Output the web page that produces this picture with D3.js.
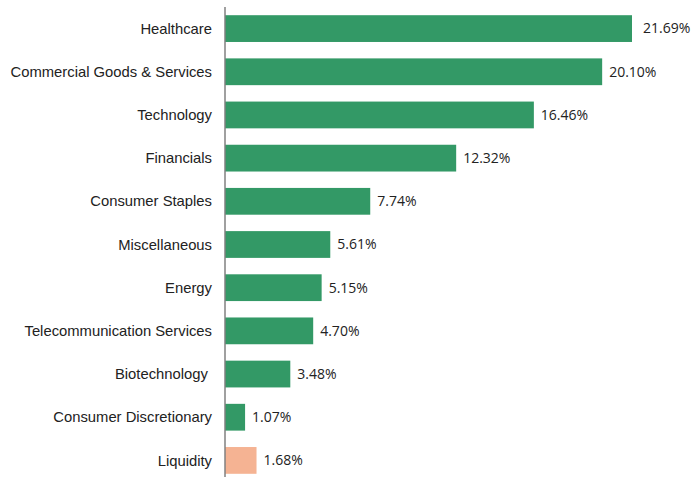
<!DOCTYPE html>
<html>
<head>
<meta charset="utf-8">
<script src="https://cdn.jsdelivr.net/npm/d3@7"></script>
<style>
  body { margin: 0; background: #fff; }
  text { white-space: pre; }
</style>
</head>
<body>
<svg width="693" height="477"></svg>
<script>
const categories = [
  "Healthcare",
  "Commercial Goods & Services",
  "Technology",
  "Financials",
  "Consumer Staples",
  "Miscellaneous",
  "Energy",
  "Telecommunication Services",
  "Biotechnology ",
  "Consumer Discretionary",
  "Liquidity"
];
const values = [21.69, 20.10, 16.46, 12.32, 7.74, 5.61, 5.15, 4.70, 3.48, 1.07, 1.68];
const barColors = ["#339966", "#339966", "#339966", "#339966", "#339966", "#339966",
  "#339966", "#339966", "#339966", "#339966", "#f5b393"];

let svg = d3.select("svg");
let margin = { top: 7, right: 0, bottom: 0, left: 225 };

let data = categories.map((c, i) => ({ name: c, value: values[i], color: barColors[i] }));

let x = d3.scaleLinear().domain([0, 21.69]).range([margin.left, 632]);
let y = d3.scaleBand().domain(categories).range([margin.top, 482]).paddingInner(0.38).paddingOuter(0.19);

svg.append("g")
  .selectAll("rect")
  .data(data)
  .enter().append("rect")
  .attr("x", x(0))
  .attr("y", d => y(d.name))
  .attr("width", d => x(d.value) - x(0))
  .attr("height", y.bandwidth())
  .attr("fill", d => d.color);

// category labels
svg.append("g")
  .selectAll("text")
  .data(data)
  .enter().append("text")
  .attr("x", margin.left - 13)
  .attr("y", d => y(d.name) + y.bandwidth() / 2)
  .attr("dy", "0.35em")
  .attr("text-anchor", "end")
  .attr("font-family", "Liberation Sans, Arial, sans-serif")
  .attr("font-size", "14.8px")
  .attr("fill", "#222")
  .text(d => d.name);

// value labels
svg.append("g")
  .selectAll("text")
  .data(data)
  .enter().append("text")
  .attr("x", d => x(d.value) + (d.value === d3.max(values) ? 11 : 7))
  .attr("y", d => y(d.name) + y.bandwidth() / 2)
  .attr("dy", "0.35em")
  .attr("font-family", "Open Sans, sans-serif")
  .attr("font-size", "14px")
  .attr("fill", "#222")
  .text(d => d.value.toFixed(2) + "%");

// axis line
svg.append("line")
  .attr("x1", x(0)).attr("x2", x(0))
  .attr("y1", margin.top).attr("y2", 477)
  .attr("stroke", "#808080")
  .attr("stroke-width", 1.5);
</script>
</body>
</html>
